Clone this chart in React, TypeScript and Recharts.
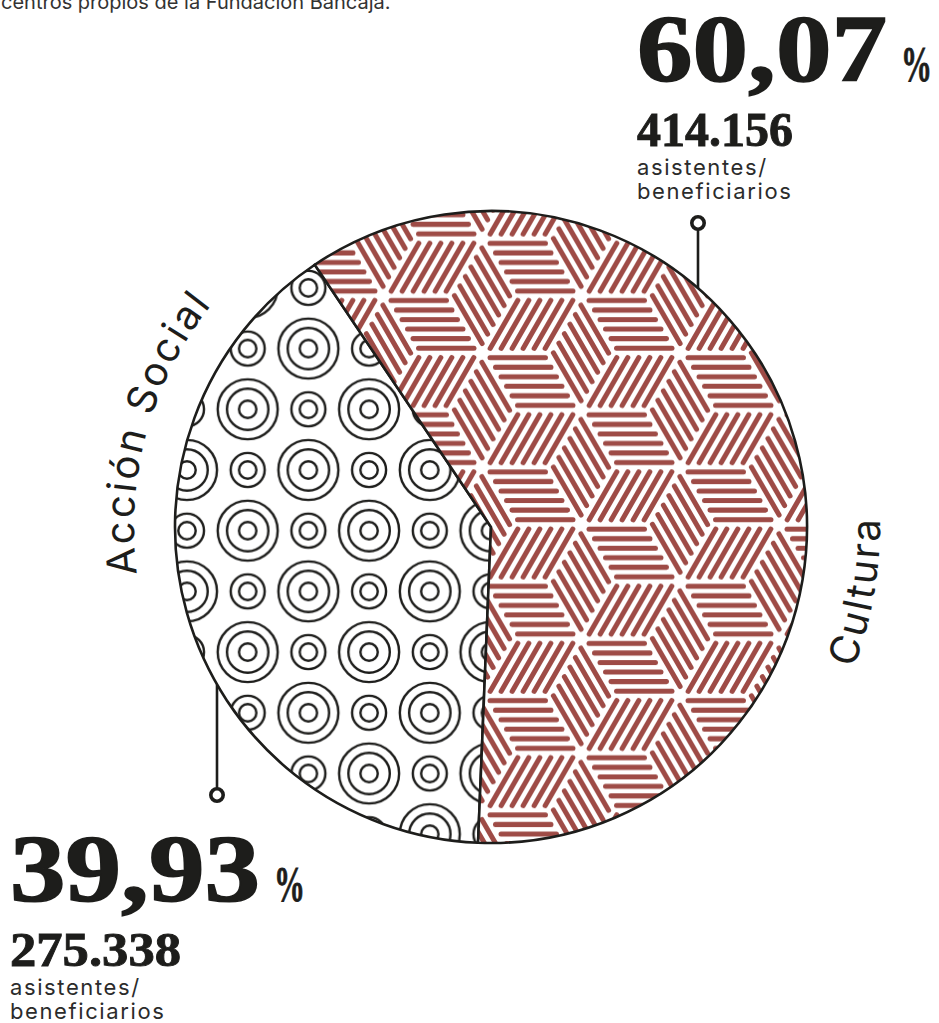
import { PieChart, Pie, Cell } from 'recharts'

const categories = ['Acción Social', 'Cultura']
const shares = [39.93, 60.07]
const attendees = [275338, 414156]
const unitLines = ['asistentes/', 'beneficiarios']

const W = 939
const H = 1023
const CX = 491
const CY = 527
const R = 316
const START = 123.9

const RED = '#9e4b46'
const INK = '#1d1d1b'
const SANS = 'Inter, "Noto Sans", sans-serif'
const SERIF = '"Liberation Serif", "DejaVu Serif", serif'

const fmtPct = (v: number) => v.toFixed(2).replace('.', ',')
const fmtInt = (v: number) => String(v).replace(/\B(?=(\d{3})+(?!\d))/g, '.')

const data = categories.map((name, i) => ({ name, value: shares[i] }))

// tumbling-blocks hatch for Cultura
const HEX = 66
const TILE_W = HEX * 3
const TILE_H = Math.sqrt(3) * HEX

function hatchLines() {
  const dir = [0, 60, 120, 180, 240, 300].map((a) => [
    Math.cos((a * Math.PI) / 180) * HEX,
    Math.sin((a * Math.PI) / 180) * HEX,
  ])
  const rhombi = [
    { u: dir[0], v: dir[4] },
    { u: dir[2], v: dir[0] },
    { u: dir[4], v: dir[2] },
  ]
  const n = 6
  const inset = 0.08
  const out: JSX.Element[] = []
  for (let i = 0; i <= 2; i++) {
    for (let j = -1; j <= 1; j++) {
      const cx = 1.5 * HEX * i
      const cy = TILE_H * j + (i % 2 ? TILE_H / 2 : 0)
      rhombi.forEach(({ u, v }, r) => {
        for (let k = 0; k < n; k++) {
          const t = (k + 0.5) / n
          const px = cx + t * v[0]
          const py = cy + t * v[1]
          out.push(
            <line
              key={`${i}-${j}-${r}-${k}`}
              x1={px + inset * u[0]}
              y1={py + inset * u[1]}
              x2={px + (1 - inset) * u[0]}
              y2={py + (1 - inset) * u[1]}
            />
          )
        }
      })
    }
  }
  return out
}

// concentric rings for Acción Social
const P = 121.4
const big = [[0, 0], [P, 0], [0, P], [P, P], [P / 2, P / 2]]
const small = [[P / 2, 0], [0, P / 2], [P, P / 2], [P / 2, P]]

function arcPath(r: number, a0: number, a1: number, sweep: 0 | 1) {
  const rad = (a: number) => (a * Math.PI) / 180
  const x0 = CX + r * Math.cos(rad(a0))
  const y0 = CY + r * Math.sin(rad(a0))
  const x1 = CX + r * Math.cos(rad(a1))
  const y1 = CY + r * Math.sin(rad(a1))
  return `M ${x0} ${y0} A ${r} ${r} 0 0 ${sweep} ${x1} ${y1}`
}

function Figure({ x, y, i }: { x: number; y: number; i: number }) {
  return (
    <g>
      <text x={x} y={y} fontFamily={SERIF} fontWeight={700} fontSize={96} fill={INK} stroke={INK} strokeWidth={1.6} textLength={250} lengthAdjust="spacingAndGlyphs">
        {fmtPct(shares[i])}
      </text>
      <text x={x + 264} y={y} fontFamily={SERIF} fontWeight={700} fontSize={50} fill={INK} stroke={INK} strokeWidth={0.8} textLength={31} lengthAdjust="spacingAndGlyphs">
        %
      </text>
      <text x={x} y={y + 65} fontFamily={SERIF} fontWeight={700} fontSize={49} fill={INK} stroke={INK} strokeWidth={0.9} textLength={i === 1 ? 156 : 171} lengthAdjust="spacingAndGlyphs">
        {fmtInt(attendees[i])}
      </text>
      {unitLines.map((t, k) => (
        <text key={t} x={x} y={y + 94 + k * 24} fontFamily={SANS} fontSize={22} letterSpacing={1.6} fill="#2b2b2b">
          {t}
        </text>
      ))}
    </g>
  )
}

export default function App() {
  const topLineX = 698
  const topEdge = CY - Math.sqrt(R * R - (topLineX - CX) ** 2)
  const botLineX = 217
  const botEdge = CY + Math.sqrt(R * R - (botLineX - CX) ** 2)

  return (
    <div style={{ position: 'absolute', left: 0, top: 0, width: W, height: H, background: '#fff' }}>
      <PieChart width={W} height={H} margin={{ top: 0, right: 0, bottom: 0, left: 0 }}>
        <defs>
          <pattern id="hexHatch" patternUnits="userSpaceOnUse" width={TILE_W} height={TILE_H} x={20} y={10}>
            <rect width={TILE_W} height={TILE_H} fill="#fff" />
            <g stroke={RED} strokeWidth={5} strokeLinecap="round">
              {hatchLines()}
            </g>
          </pattern>
          <pattern id="rings" patternUnits="userSpaceOnUse" width={P} height={P} x={4.9} y={45.1}>
            <rect width={P} height={P} fill="#fff" />
            <g fill="none" stroke={INK} strokeWidth={2.4}>
              {big.map(([x, y], k) =>
                [30, 20.7, 8.7].map((r) => <circle key={`b${k}-${r}`} cx={x} cy={y} r={r} />)
              )}
              {small.map(([x, y], k) =>
                [17, 8.7].map((r) => <circle key={`s${k}-${r}`} cx={x} cy={y} r={r} />)
              )}
            </g>
          </pattern>
          <path id="arcSocial" d={arcPath(357, 150.6, 240.6, 1)} />
          <path id="arcCultura" d={arcPath(389, 54.9, -35.1, 0)} />
        </defs>

        <Pie
          data={data}
          dataKey="value"
          nameKey="name"
          cx={CX}
          cy={CY}
          innerRadius={0}
          outerRadius={R}
          startAngle={START}
          endAngle={START + 360}
          stroke={INK}
          strokeWidth={2.6}
          label={false}
          labelLine={false}
          isAnimationActive={false}
        >
          <Cell fill="url(#rings)" />
          <Cell fill="url(#hexHatch)" />
        </Pie>

        <text x={1} y={9} fontFamily={SANS} fontSize={20} fill="#333">
          centros propios de la Fundación Bancaja.
        </text>

        <text fontFamily={SANS} fontSize={40} letterSpacing={2.5} fill={INK}>
          <textPath href="#arcSocial" startOffset="50%" textAnchor="middle">
            {categories[0]}
          </textPath>
        </text>
        <text fontFamily={SANS} fontSize={40} letterSpacing={2.5} fill={INK}>
          <textPath href="#arcCultura" startOffset="50%" textAnchor="middle">
            {categories[1]}
          </textPath>
        </text>

        <g stroke={INK} strokeWidth={2.6} fill="#fff">
          <line x1={topLineX} y1={229} x2={topLineX} y2={topEdge} />
          <circle cx={topLineX} cy={223} r={6.2} strokeWidth={3.6} />
          <line x1={botLineX} y1={botEdge} x2={botLineX} y2={789} />
          <circle cx={botLineX} cy={795} r={6.2} strokeWidth={3.6} />
        </g>

        <Figure x={637} y={81} i={1} />
        <Figure x={10} y={901} i={0} />
      </PieChart>
    </div>
  )
}
